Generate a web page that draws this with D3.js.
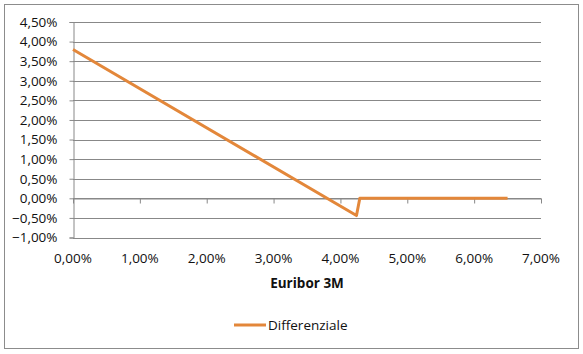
<!DOCTYPE html>
<html>
<head>
<meta charset="utf-8">
<script src="https://cdn.jsdelivr.net/npm/d3@7"></script>
<style>
  body { margin: 0; background: #fff; }
  svg { display: block; font-family: "Open Sans", "Noto Sans", sans-serif; }
</style>
</head>
<body>
<div id="chart"></div>
<script>
// Euribor 3M (in %) and differenziale (in %)
var euribor = [0.00, 4.24, 4.29, 6.50];
var differenziale = [3.80, -0.44, 0.00, 0.00];
var xTicks = [0, 1, 2, 3, 4, 5, 6, 7];
var yTicks = [-1, -0.5, 0, 0.5, 1, 1.5, 2, 2.5, 3, 3.5, 4, 4.5];
var seriesName = "Differenziale";
var xTitle = "Euribor 3M";

var width = 583, height = 354;
var lineColor = "#E3873A", gridColor = "#888888";
var fontSize = "13.5px", textColor = "#111";

var svg = d3.select("#chart").append("svg")
  .attr("width", width)
  .attr("height", height);

// outer chart frame
svg.append("rect")
  .attr("x", 4.5).attr("y", 4.5)
  .attr("width", 574).attr("height", 344)
  .attr("fill", "#fff")
  .attr("stroke", "#8c8c8c");

var x = d3.scaleLinear().domain([0, 7]).range([73, 541]);
var y = d3.scaleLinear().domain([-1, 4.5]).range([237.5, 22]);

var fmt = function(v) { return d3.format(".2f")(v).replace(".", ",") + "%"; };

// horizontal gridlines
svg.append("g").selectAll("line")
  .data(yTicks)
  .enter().append("line")
  .attr("x1", x(0)).attr("x2", x(7))
  .attr("y1", function(d) { return Math.round(y(d)) + 0.5; })
  .attr("y2", function(d) { return Math.round(y(d)) + 0.5; })
  .attr("stroke", gridColor)
  .attr("stroke-width", 1);

// y axis
var yAxis = svg.append("g")
  .attr("transform", "translate(" + (x(0) + 0.5) + ",0)")
  .call(d3.axisLeft(y).tickValues(yTicks).tickFormat(fmt).tickSize(4).tickPadding(12));

// x axis crossing at 0, labels at the bottom
var xAxis = svg.append("g")
  .attr("transform", "translate(0," + (Math.round(y(0)) + 0.5) + ")")
  .call(d3.axisBottom(x).tickValues(xTicks).tickFormat("").tickSize(5).tickSizeOuter(0));

svg.append("g").selectAll("text")
  .data(xTicks)
  .enter().append("text")
  .attr("x", function(d) { return x(d); })
  .attr("y", 263)
  .attr("text-anchor", "middle")
  .style("font-size", fontSize)
  .attr("fill", textColor)
  .text(fmt);

[yAxis, xAxis].forEach(function(a) {
  a.select(".domain").attr("stroke", gridColor);
  a.selectAll(".tick line").attr("stroke", gridColor);
  a.selectAll(".tick text").attr("fill", textColor).style("font-size", fontSize);
  a.attr("font-family", null);
});

// x axis title
svg.append("text")
  .attr("x", 307).attr("y", 288)
  .attr("text-anchor", "middle")
  .style("font-size", fontSize)
  .style("font-weight", "bold")
  .attr("fill", textColor)
  .text(xTitle);

// series line
var pts = euribor.map(function(e, i) { return [e, differenziale[i]]; });
var line = d3.line()
  .x(function(d) { return x(d[0]); })
  .y(function(d) { return y(d[1]); });

svg.append("path")
  .datum(pts)
  .attr("d", line)
  .attr("fill", "none")
  .attr("stroke", lineColor)
  .attr("stroke-width", 3)
  .attr("stroke-linejoin", "round");

// legend
svg.append("line")
  .attr("x1", 234).attr("x2", 266)
  .attr("y1", 325).attr("y2", 325)
  .attr("stroke", lineColor)
  .attr("stroke-width", 3);

svg.append("text")
  .attr("x", 268).attr("y", 330)
  .style("font-size", fontSize)
  .attr("fill", textColor)
  .text(seriesName);
</script>
</body>
</html>
